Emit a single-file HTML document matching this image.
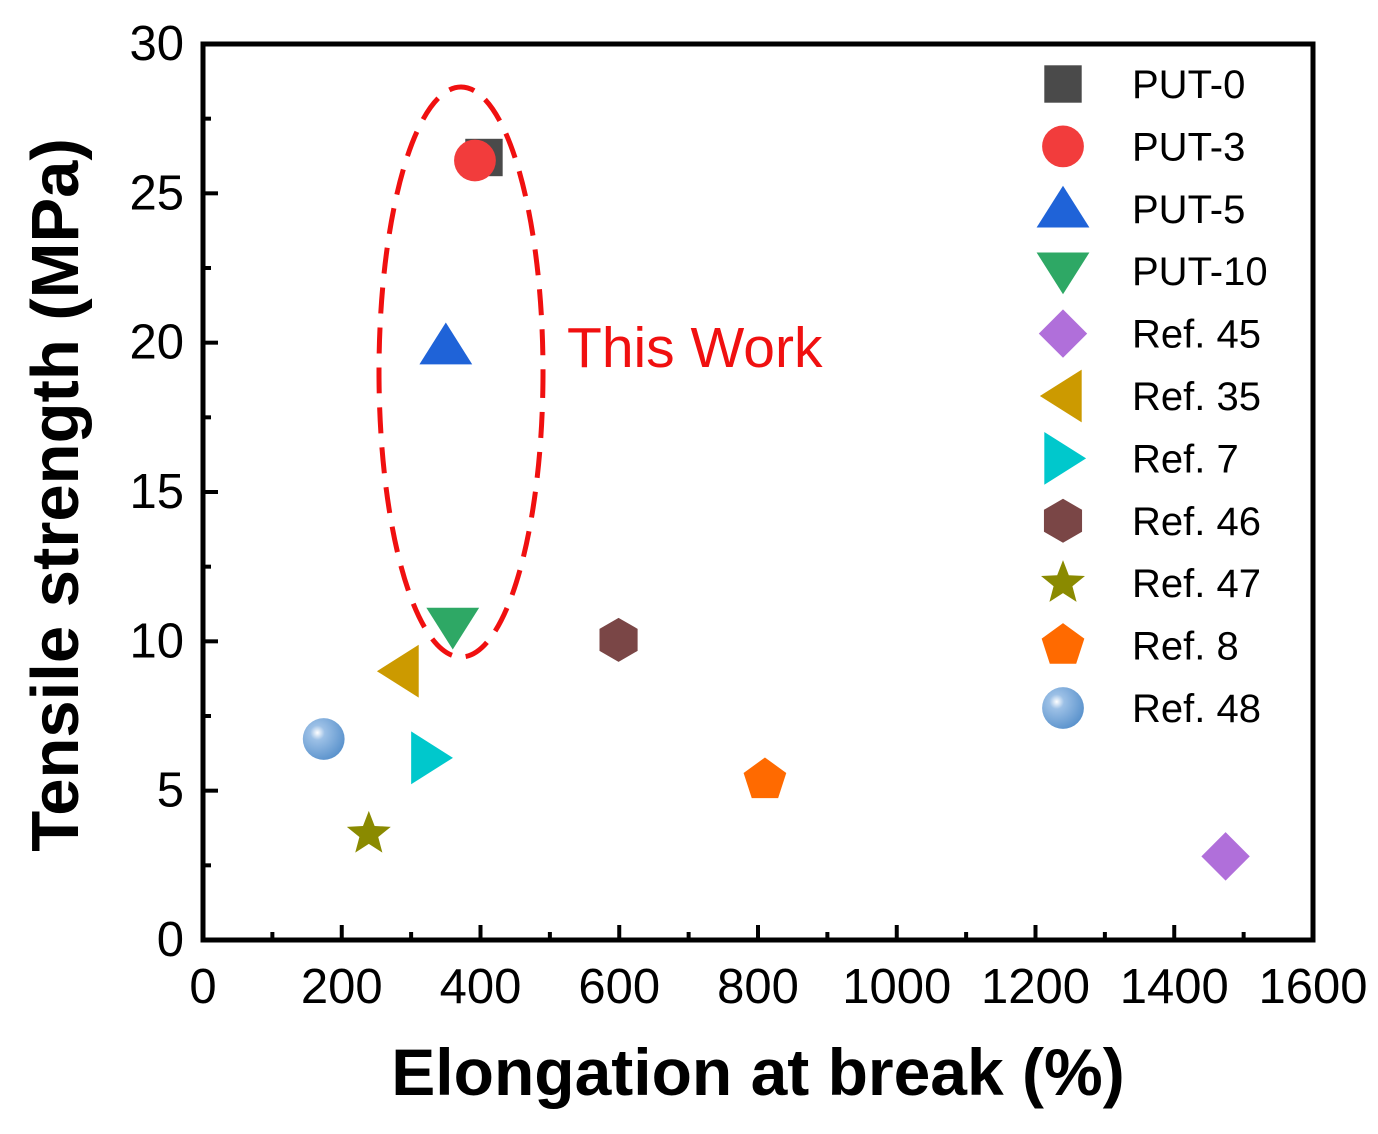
<!DOCTYPE html>
<html><head><meta charset="utf-8"><style>
body{margin:0;background:#fff}
svg text{font-family:"Liberation Sans",sans-serif}
</style></head><body>
<svg id="chart" width="1378" height="1129" xmlns="http://www.w3.org/2000/svg">
<g id="marks"></g>
</svg>
<script>
const seriesNames=["PUT-0","PUT-3","PUT-5","PUT-10","Ref. 45","Ref. 35","Ref. 7","Ref. 46","Ref. 47","Ref. 8","Ref. 48"];
const elongation=[405,392,350,360,1474,284,327,599,239,810,174];
const strength=[26.2,26.1,19.9,10.5,2.8,9.0,6.1,10.05,3.55,5.36,6.73];
const shapes=["square","circle","up","down","diamond","left","right","hexagon","star","pentagon","sphere"];
const colors=["#4a4a4a","#f23c3c","#1f63d8","#2ea865","#b06fda","#cc9a00","#00c8cc","#7a4646","#8a8a00","#ff6a00","#5e98d0"];
const xTicks=[0,200,400,600,800,1000,1200,1400,1600];
const yTicks=[0,5,10,15,20,25,30];
const L=203,R=1313,T=44,B=940;
const X=v=>L+(v-0)/1600*(R-L);
const Y=v=>B-(v-0)/30*(B-T);
const NS="http://www.w3.org/2000/svg";
const svg=document.getElementById('chart');
function mk(tag,attrs,parent){const e=document.createElementNS(NS,tag);for(const k in attrs)e.setAttribute(k,attrs[k]);(parent||svg).appendChild(e);return e;}
const defs=mk('defs',{});
const rg=mk('radialGradient',{id:'sph',cx:'0.35',cy:'0.35',r:'0.7'},defs);
mk('stop',{offset:'0','stop-color':'#ffffff'},rg);
mk('stop',{offset:'0.25','stop-color':'#9cc0e6'},rg);
mk('stop',{offset:'1','stop-color':'#5a92cc'},rg);
function marker(shape,color,cx,cy,s,parent){
  let e;const h=s/2;
  if(shape==='square')e=mk('rect',{x:cx-h*0.85,y:cy-h*0.85,width:s*0.85,height:s*0.85,fill:color},parent);
  else if(shape==='circle')e=mk('circle',{cx,cy,r:h*0.95,fill:color},parent);
  else if(shape==='sphere')e=mk('circle',{cx,cy,r:h*0.95,fill:'url(#sph)'},parent);
  else{
    let pts=[];
    if(shape==='up')pts=[[0,-h*1.05],[h*1.2,h*0.85],[-h*1.2,h*0.85]];
    else if(shape==='down')pts=[[0,h*1.05],[h*1.2,-h*0.85],[-h*1.2,-h*0.85]];
    else if(shape==='left')pts=[[-h*1.05,0],[h*0.85,-h*1.2],[h*0.85,h*1.2]];
    else if(shape==='right')pts=[[h*1.05,0],[-h*0.85,-h*1.2],[-h*0.85,h*1.2]];
    else if(shape==='diamond')pts=[[0,-h*1.1],[h*1.1,0],[0,h*1.1],[-h*1.1,0]];
    else if(shape==='hexagon'){for(let i=0;i<6;i++){const a=Math.PI/3*i-Math.PI/2;pts.push([h*Math.cos(a),h*Math.sin(a)]);}}
    else if(shape==='pentagon'){for(let i=0;i<5;i++){const a=2*Math.PI/5*i-Math.PI/2;pts.push([h*1.02*Math.cos(a),h*1.02*Math.sin(a)]);}}
    else if(shape==='star'){for(let i=0;i<10;i++){const a=Math.PI/5*i-Math.PI/2;const r=i%2?h*0.45:h*1.05;pts.push([r*Math.cos(a),r*Math.sin(a)]);}}
    e=mk('polygon',{points:pts.map(p=>(cx+p[0])+','+(cy+p[1])).join(' '),fill:color},parent);
  }
  return e;
}
const frame=mk('rect',{x:L,y:T,width:R-L,height:B-T,fill:'none',stroke:'#000','stroke-width':5});


xTicks.forEach((v,i)=>{
  const t=mk('line',{x1:X(v),x2:X(v),y1:B,y2:B-15,stroke:'#000','stroke-width':4});
  
  
  if(i<xTicks.length-1){const m=mk('line',{x1:X(v+100),x2:X(v+100),y1:B,y2:B-8,stroke:'#000','stroke-width':4});
  
  }
  const l=mk('text',{x:X(v),y:1003,'font-size':49,'text-anchor':'middle',fill:'#000'});l.textContent=v;
  
  
});
yTicks.forEach((v,i)=>{
  const t=mk('line',{x1:L,x2:L+15,y1:Y(v),y2:Y(v),stroke:'#000','stroke-width':4});
  
  
  if(i<yTicks.length-1){const m=mk('line',{x1:L,x2:L+8,y1:Y(v+2.5),y2:Y(v+2.5),stroke:'#000','stroke-width':4});
  
  }
  const l=mk('text',{x:184,y:Y(v)+16,'font-size':49,'text-anchor':'end',fill:'#000'});l.textContent=v;
  
  
});
const el=mk('ellipse',{cx:461,cy:372,rx:82,ry:285,fill:'none',stroke:'#f01010','stroke-width':5,'stroke-dasharray':'26 14'});


const tw=mk('text',{x:567,y:367,'font-size':57,fill:'#f01010'});tw.textContent='This Work';


seriesNames.forEach((n,i)=>{
  const m=marker(shapes[i],colors[i],X(elongation[i]),Y(strength[i]),44);
  
  
});
seriesNames.forEach((n,i)=>{
  const y=84+i*62.4;
  const g=mk('g',{});
  
  
  marker(shapes[i],colors[i],1063,y,44,g);
  const t=mk('text',{x:1132,y:y+14,'font-size':40,fill:'#000'},g);t.textContent=n;
});
const xt=mk('text',{x:758,y:1095,'font-size':66,'font-weight':'bold','text-anchor':'middle',fill:'#000'});xt.textContent='Elongation at break (%)';


const yt=mk('text',{x:78,y:495,'font-size':67,'font-weight':'bold','text-anchor':'middle',fill:'#000',transform:'rotate(-90 78 495)'});yt.textContent='Tensile strength (MPa)';


</script>
</body></html>
